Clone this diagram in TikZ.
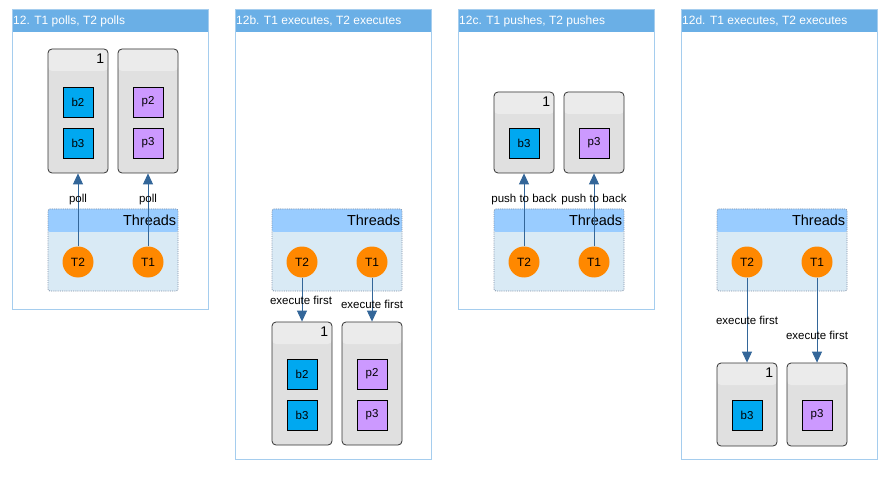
\documentclass[tikz,border=0pt]{standalone}
\usepackage{fontspec}
\setmainfont{Liberation Sans}
\usetikzlibrary{arrows.meta}
\definecolor{framec}{HTML}{A5CDEE}
\definecolor{titlec}{HTML}{6AAFE6}
\definecolor{dqfill}{HTML}{E0E0E0}
\definecolor{dqhead}{HTML}{EBEBEB}
\definecolor{bluec}{HTML}{00A8F0}
\definecolor{purc}{HTML}{CC99FF}
\definecolor{thfill}{HTML}{D9EAF5}
\definecolor{thhead}{HTML}{99CCFF}
\definecolor{thborder}{HTML}{7F8FA6}
\definecolor{orangec}{HTML}{FF8800}
\definecolor{arrowc}{HTML}{336699}
\tikzset{
  panel/.style={draw=framec, line width=1pt, fill=white, minimum width=196pt, inner sep=0pt, outer sep=0pt,
    path picture={\fill[titlec] (path picture bounding box.north west) rectangle ([yshift=-22pt]path picture bounding box.north east);}},
  ptitle/.style={anchor=west, text=white, font=\fontsize{12}{14}\selectfont, inner sep=0pt},
  dq/.style={draw=black!80, fill=dqfill, rounded corners=4pt, minimum width=60pt, inner sep=0pt, line width=0.8pt,
    path picture={\fill[dqhead] (path picture bounding box.north west) rectangle ([yshift=-22pt]path picture bounding box.north east);}},
  dqnum/.style={anchor=north east, inner sep=0pt, font=\fontsize{14}{16}\selectfont},
  item/.style={draw=black, line width=0.8pt, minimum width=30pt, minimum height=30pt, inner sep=0pt, font=\fontsize{11.5}{13}\selectfont},
  bitem/.style={item, fill=bluec},
  pitem/.style={item, fill=purc},
  thbox/.style={draw=thborder, line width=0.8pt, dash pattern=on 1pt off 1.2pt, fill=thfill, rounded corners=2pt, minimum width=130pt, minimum height=82pt, inner sep=0pt,
    path picture={\fill[thhead] (path picture bounding box.north west) rectangle ([yshift=-23pt]path picture bounding box.north east);}},
  thlabel/.style={anchor=east, inner sep=0pt, font=\fontsize{14.5}{16}\selectfont},
  thread/.style={circle, fill=orangec, minimum size=31pt, inner sep=0pt, font=\fontsize{12}{14}\selectfont},
  conn/.style={draw=arrowc, line width=0.9pt, -{Triangle[width=10pt,length=11pt]}},
  elabel/.style={inner sep=0pt, font=\fontsize{11.5}{13}\selectfont},
}
\begin{document}
\begin{tikzpicture}[x=1pt,y=-1pt]
\useasboundingbox (0,0) rectangle (893,478);
% ---------- panel 1 ----------
\node[panel, minimum height=299pt] (f1) at (110,159.5) {};
\node[ptitle] (t1) at (13,21) {12. T1 polls, T2 polls};
\node[dq, minimum height=124pt] (q1a) at (78,111) {};
\node[dq, minimum height=124pt] (q1b) at (148,111) {};
\node[dqnum] (n1) at ([xshift=-4pt,yshift=-5pt]q1a.north east) {1};
\node[bitem] (b2a) at (78,102) {b2};
\node[bitem] (b3a) at (78,143) {b3};
\node[pitem] (p2a) at (148,102) {p2};
\node[pitem] (p3a) at (148,143) {p3};
\node[thbox] (th1) at (113,250) {};
\node[thlabel] (thl1) at ([xshift=-2pt,yshift=-11.5pt]th1.north east) {Threads};
\node[thread] (T2a) at (78,262) {T2};
\node[thread] (T1a) at (148,262) {T1};
\draw[conn] (T2a.north) -- (q1a.south);
\draw[conn] (T1a.north) -- (q1b.south);
\node[elabel] (l1a) at (78,200) {poll};
\node[elabel] (l1b) at (148,200) {poll};
% ---------- panel 2 ----------
\node[panel, minimum height=449pt] (f2) at (333,234.5) {};
\node[ptitle] (t2) at (236,21) {12b. T1 executes, T2 executes};
\node[thbox] (th2) at (337,250) {};
\node[thlabel] (thl2) at ([xshift=-2pt,yshift=-11.5pt]th2.north east) {Threads};
\node[thread] (T2b) at (302,262) {T2};
\node[thread] (T1b) at (372,262) {T1};
\node[dq, minimum height=123pt] (q2a) at (302,383.5) {};
\node[dq, minimum height=123pt] (q2b) at (372,383.5) {};
\node[dqnum] (n2) at ([xshift=-4pt,yshift=-5pt]q2a.north east) {1};
\node[bitem] (b2b) at (302,374) {b2};
\node[bitem] (b3b) at (302,415) {b3};
\node[pitem] (p2b) at (372,374) {p2};
\node[pitem] (p3b) at (372,415) {p3};
\draw[conn] (T2b.south) -- (q2a.north);
\draw[conn] (T1b.south) -- (q2b.north);
\node[elabel] (l2a) at (301,300) {execute first};
\node[elabel] (l2b) at (372,304) {execute first};
% ---------- panel 3 ----------
\node[panel, minimum height=299pt] (f3) at (556,159.5) {};
\node[ptitle] (t3) at (459,21) {12c. T1 pushes, T2 pushes};
\node[dq, minimum height=81pt] (q3a) at (524,132.5) {};
\node[dq, minimum height=81pt] (q3b) at (594,132.5) {};
\node[dqnum] (n3) at ([xshift=-4pt,yshift=-5pt]q3a.north east) {1};
\node[bitem] (b3c) at (524,143) {b3};
\node[pitem] (p3c) at (594,143) {p3};
\node[thbox] (th3) at (559,250) {};
\node[thlabel] (thl3) at ([xshift=-2pt,yshift=-11.5pt]th3.north east) {Threads};
\node[thread] (T2c) at (524,262) {T2};
\node[thread] (T1c) at (594,262) {T1};
\draw[conn] (T2c.north) -- (q3a.south);
\draw[conn] (T1c.north) -- (q3b.south);
\node[elabel] (l3a) at (524,200) {push to back};
\node[elabel] (l3b) at (594,200) {push to back};
% ---------- panel 4 ----------
\node[panel, minimum height=449pt] (f4) at (779,234.5) {};
\node[ptitle] (t4) at (682,21) {12d. T1 executes, T2 executes};
\node[thbox] (th4) at (782,250) {};
\node[thlabel] (thl4) at ([xshift=-2pt,yshift=-11.5pt]th4.north east) {Threads};
\node[thread] (T2d) at (747,262) {T2};
\node[thread] (T1d) at (817,262) {T1};
\node[dq, minimum height=83pt] (q4a) at (747,404.5) {};
\node[dq, minimum height=83pt] (q4b) at (817,404.5) {};
\node[dqnum] (n4) at ([xshift=-4pt,yshift=-5pt]q4a.north east) {1};
\node[bitem] (b3d) at (747,415) {b3};
\node[pitem] (p3d) at (817,415) {p3};
\draw[conn] (T2d.south) -- (q4a.north);
\draw[conn] (T1d.south) -- (q4b.north);
\node[elabel] (l4a) at (747,320) {execute first};
\node[elabel] (l4b) at (817,335) {execute first};
\end{tikzpicture}
\end{document}
